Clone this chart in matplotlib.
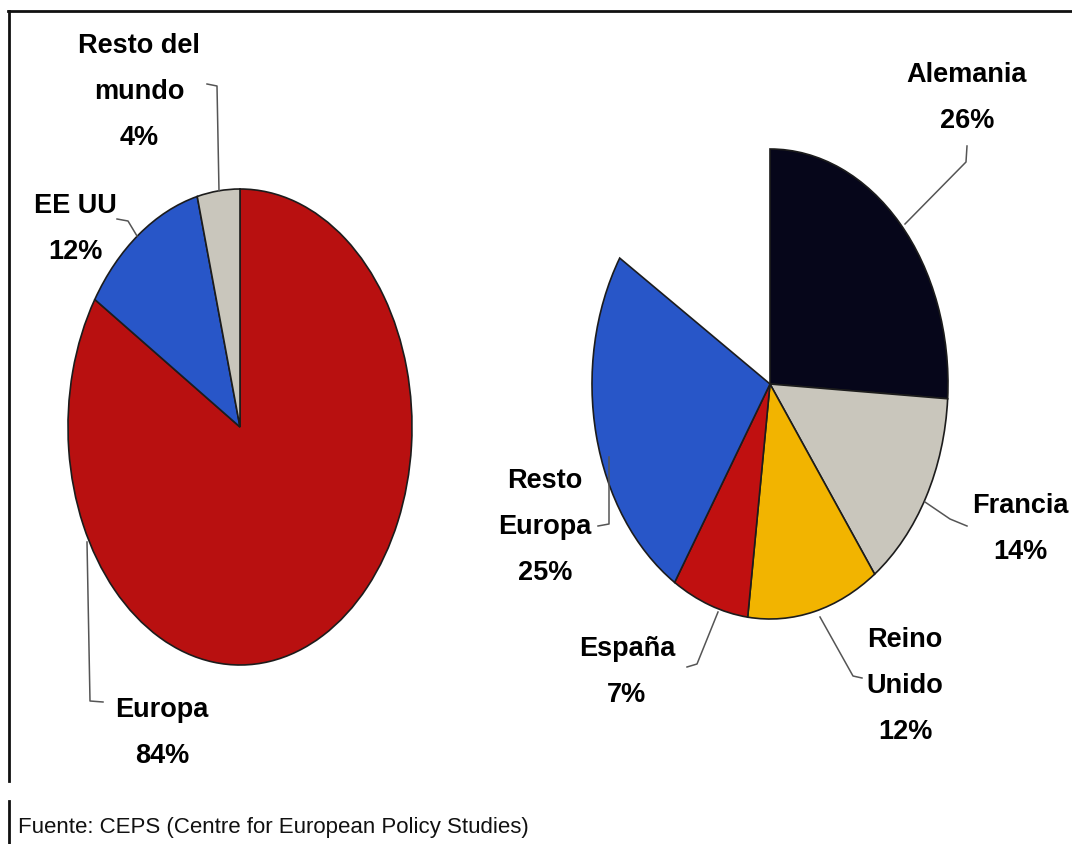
import matplotlib
matplotlib.use("Agg")
import matplotlib.pyplot as plt

W, H = 1072, 845

# ---- data ----
world_labels = ["Europa", "EE UU", "Resto del mundo"]
world_values = [84, 12, 4]
world_colors = ["#B81010", "#2856C8", "#C9C6BC"]

europe_labels = ["Alemania", "Francia", "Reino Unido", "España", "Resto Europa"]
europe_values = [26, 14, 12, 7, 25]
europe_colors = ["#06061A", "#C9C6BC", "#F2B400", "#C01010", "#2856C8"]

source_text = "Fuente: CEPS (Centre for European Policy Studies)"

# ---- layout (pixel units) ----
# label lines: (lines, center x, first baseline y)
world_label_layout = {
    "Europa": (["Europa"], 162, 717),
    "EE UU": (["EE UU"], 75, 213),
    "Resto del mundo": (["Resto del", "mundo"], 139, 53),
}
europe_label_layout = {
    "Alemania": (["Alemania"], 967, 82),
    "Francia": (["Francia"], 1020, 513),
    "Reino Unido": (["Reino", "Unido"], 905, 647),
    "España": (["España"], 627, 656),
    "Resto Europa": (["Resto", "Europa"], 545, 488),
}
leaders = {
    "Resto del mundo": [(207, 85), (217, 87), (219, 192)],
    "EE UU": [(117, 220), (128, 222), (137, 237)],
    "Europa": [(87, 543), (90, 702), (103, 703)],
    "Alemania": [(967, 147), (966, 163), (905, 225)],
    "Francia": [(925, 503), (950, 520), (967, 527)],
    "Reino Unido": [(820, 618), (853, 677), (862, 679)],
    "España": [(718, 613), (697, 665), (687, 668)],
    "Resto Europa": [(609, 458), (609, 525), (598, 527)],
}
LINE_STEP = 46
FONT = ["Liberation Sans", "DejaVu Sans"]

fig = plt.figure(figsize=(W / 100, H / 100), dpi=100)
fig.patch.set_facecolor("white")


def pie_axes(x0, y0, x1, y1):
    ax = fig.add_axes([x0 / W, 1 - y1 / H, (x1 - x0) / W, (y1 - y0) / H])
    return ax


wedge_kw = dict(edgecolor="#1c1c1c", linewidth=1.2)

# left pie (ellipse bbox in pixels)
axL = pie_axes(68, 190, 412, 666)
wl, _ = axL.pie(world_values, colors=world_colors, startangle=90,
                counterclock=False, radius=1, wedgeprops=wedge_kw)
# right pie: partial (84% of full circle)
axR = pie_axes(592, 150, 948, 620)
wr, _ = axR.pie([v / 100 for v in europe_values], colors=europe_colors,
                startangle=90, counterclock=False, radius=1, normalize=False,
                wedgeprops=wedge_kw)
for ax, ws in ((axL, wl), (axR, wr)):
    ax.set_aspect("auto")
    ax.set_xlim(-1, 1)
    ax.set_ylim(-1, 1)
    ax.axis("off")
    for w in ws:
        w.set_clip_on(False)

# overlay for labels, leaders and frame
ov = fig.add_axes([0, 0, 1, 1], zorder=5)
ov.set_xlim(0, W)
ov.set_ylim(H, 0)
ov.axis("off")
ov.patch.set_alpha(0)


def draw_labels(labels, values, layout):
    for lab, val in zip(labels, values):
        lines, cx, y0 = layout[lab]
        lines = lines + [f"{val}%"]
        for i, ln in enumerate(lines):
            ov.text(cx, y0 + i * LINE_STEP, ln, ha="center", va="baseline",
                    fontsize=19.5, fontweight="bold", family=FONT,
                    color="#000000")


draw_labels(world_labels, world_values, world_label_layout)
draw_labels(europe_labels, europe_values, europe_label_layout)

for lab, pts in leaders.items():
    xs, ys = zip(*pts)
    ov.plot(xs, ys, color="#555555", lw=1.1, solid_joinstyle="round")

# frame lines
ov.plot([8, W], [12, 12], color="#111111", lw=2)
ov.plot([9, 9], [12, 782], color="#111111", lw=2)
ov.plot([9, 9], [802, 845], color="#111111", lw=2)

ov.text(18, 833, source_text, ha="left", va="baseline", fontsize=16,
        family=FONT, color="#111111")

fig.savefig("out.png", dpi=100, facecolor="white")
